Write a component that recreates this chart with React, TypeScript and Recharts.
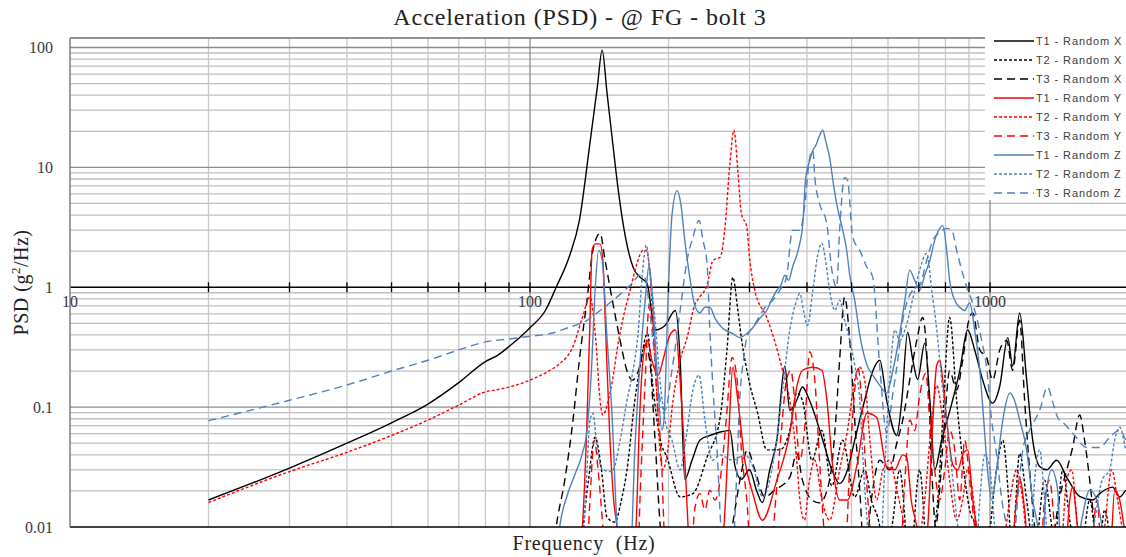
import React from 'react';
import { LineChart, Line, XAxis, YAxis, ReferenceLine, ReferenceDot } from 'recharts';

type Pt = [number, number];

// frequency (Hz), PSD (g^2/Hz); values below 0.01 fall outside the plot
const t1RandomX: Pt[] = [[20,0.0168],[30,0.031],[40,0.05],[50,0.074],[60,0.106],[70,0.16],[80,0.24],[85,0.27],[90,0.32],[100,0.46],[108,0.64],[114,1.0],[122,1.85],[128,3.6],[135,16],[140,46],[143.5,95],[147,42],[151,17],[155.5,6.5],[161,2.7],[167.5,1.47],[174,1.2],[179.6,1.08],[187,0.44],[196.5,0.48],[207,0.64],[212,0.25],[217,0.025],[225,0.036],[234,0.053],[246,0.058],[259,0.062],[272,0.064],[279,0.032],[288,0.025],[300,0.03],[311,0.02],[320,0.016],[332,0.03],[344,0.053],[358,0.22],[367,0.094],[380,0.114],[391,0.147],[405,0.114],[433,0.053],[453,0.03],[471,0.023],[490,0.03],[508,0.053],[534,0.114],[556,0.2],[576,0.246],[596,0.114],[627,0.058],[643,0.114],[662,0.42],[679,0.25],[696,0.17],[721,0.34],[740,0.114],[758,0.03],[785,0.053],[826,0.108],[859,0.2],[894,0.44],[926,0.3],[964,0.168],[1013,0.108],[1050,0.15],[1093,0.38],[1120,0.22],[1160,0.61],[1201,0.17],[1238,0.053],[1282,0.032],[1327,0.03],[1396,0.036],[1468,0.026],[1566,0.018],[1672,0.0168],[1731,0.019],[1847,0.0215],[1913,0.0178],[1971,0.0203]];

const t2RandomX: Pt[] = [[128,0.005],[134,0.0246],[138.5,0.056],[143,0.03],[147,0.0121],[153,0.011],[158,0.0168],[162.5,0.03],[169,0.114],[173,0.203],[180,0.41],[185,0.147],[192,0.053],[198.5,0.038],[212,0.0178],[226,0.019],[242.5,0.038],[259,0.082],[268,0.3],[276,1.21],[283,0.64],[288,0.38],[300,0.159],[312.5,0.089],[327,0.044],[349,0.044],[367,0.064],[380,0.131],[391,0.114],[410,0.036],[431,0.064],[453,0.022],[478,0.053],[508,0.0178],[534,0.03],[552,0.0168],[576,0.01],[590,0.005],[615,0.0114],[636,0.03],[669,0.005],[703,0.03],[732,0.006],[770,0.0168],[789,0.078],[817,0.56],[846,0.114],[872,0.036],[903,0.0139],[935,0.01],[974,0.005],[1033,0.03],[1066,0.053],[1093,0.0215],[1115,0.006],[1160,0.041],[1201,0.0168],[1250,0.006],[1314,0.0246],[1382,0.008],[1439,0.03],[1490,0.0114],[1566,0.005],[1647,0.0168],[1720,0.006],[1775,0.0139],[1866,0.005],[1971,0.007]];

const t3RandomX: Pt[] = [[111.5,0.005],[114,0.01],[119,0.0246],[124,0.078],[128,0.246],[133,0.78],[137,2.03],[142,2.82],[145.6,1.68],[151,0.78],[157,0.36],[162.5,0.2],[167,0.168],[172,0.2],[178,0.33],[182,0.246],[187,0.053],[192,0.01],[196.5,0.005],[265,0.005],[275,0.01],[286,0.0246],[297,0.044],[308,0.03],[324,0.0178],[340,0.0203],[367,0.026],[380,0.041],[391,0.0246],[410,0.0168],[426,0.0159],[448,0.0246],[462,0.078],[471,0.246],[483,0.83],[495.5,0.36],[508,0.078],[521,0.0203],[534,0.005],[552,0.0168],[576,0.036],[605,0.03],[627,0.05],[646,0.078],[669,0.168],[693,0.36],[714,0.56],[732,0.203],[747,0.03],[762,0.01],[777,0.0203],[797,0.078],[817,0.2],[846,0.139],[872,0.246],[899,0.53],[917,0.61],[950,0.3],[983,0.26],[1013,0.168],[1050,0.3],[1087,0.36],[1120,0.203],[1160,0.53],[1189,0.114],[1219,0.03],[1250,0.01],[1282,0.005],[1348,0.006],[1417,0.0178],[1468,0.03],[1512,0.046],[1566,0.086],[1605,0.053],[1647,0.0246],[1689,0.01],[1731,0.005],[1971,0.005]];

const t1RandomY: Pt[] = [[128,0.005],[130,0.01],[133,0.078],[135,0.53],[136.4,2.03],[138.5,2.3],[142,2.3],[144,1.68],[146,0.44],[149,0.06],[152,0.0168],[154.6,0.01],[157,0.005],[166.7,0.005],[170,0.01],[173,0.078],[176,0.246],[180,0.36],[184,0.246],[190,0.185],[194.5,0.246],[201.5,0.4],[207,0.44],[212,0.168],[216,0.053],[220.6,0.01],[223,0.005],[259,0.005],[264,0.01],[270,0.053],[276,0.215],[283,0.114],[293,0.036],[305,0.019],[320,0.0114],[344,0.0246],[367,0.061],[380,0.147],[391,0.203],[412,0.215],[431,0.203],[442,0.114],[455,0.032],[471,0.0168],[490,0.0168],[513,0.032],[540,0.089],[567,0.082],[596,0.032],[621,0.03],[646,0.04],[659,0.038],[674,0.0168],[693,0.01],[710,0.005],[732,0.01],[751,0.078],[766,0.225],[778,0.246],[789,0.168],[805,0.078],[830,0.033],[851,0.03],[872,0.04],[894,0.044],[917,0.0168],[935,0.01],[960,0.005],[1104,0.005],[1142,0.0168],[1160,0.026],[1189,0.0139],[1219,0.005],[1453,0.005],[1490,0.0168],[1512,0.0215],[1550,0.01],[1605,0.005],[1820,0.005],[1866,0.0203],[1913,0.0168],[1971,0.008]];

const t2RandomY: Pt[] = [[20,0.016],[30,0.029],[40,0.042],[50,0.058],[60,0.078],[70,0.104],[80,0.134],[85,0.14],[90,0.147],[100,0.168],[110.5,0.203],[116,0.23],[124,0.32],[130,0.56],[135,0.83],[139,0.36],[142,0.114],[144,0.086],[148,0.114],[151.5,0.178],[154.6,0.3],[159,0.53],[165,0.94],[171,1.6],[176,2.03],[179,2.03],[182,1.39],[185,0.53],[189,0.114],[191.6,0.044],[194.5,0.03],[198.5,0.04],[204.6,0.114],[212,0.246],[219.5,0.38],[228,0.71],[234,0.83],[242.5,1.04],[250,1.68],[259,1.78],[265,2.98],[272,10.8],[277.5,20.4],[283,9.4],[288,4.14],[296,3.16],[300,1.78],[308,0.944],[327,0.56],[340,0.36],[354,0.203],[367,0.114],[380,0.036],[386,0.0168],[395,0.0114],[405,0.0246],[416,0.036],[431,0.0168],[448,0.0114],[471,0.03],[490,0.064],[508,0.168],[521,0.215],[534,0.168],[548,0.053],[567,0.0168],[585,0.03],[605,0.036],[627,0.0203],[653,0.01],[680,0.005],[721,0.0168],[747,0.078],[766,0.152],[789,0.078],[817,0.0246],[846,0.0114],[872,0.0168],[894,0.03],[926,0.0139],[950,0.005],[1050,0.005],[1104,0.0168],[1142,0.03],[1178,0.0168],[1219,0.005],[1417,0.005],[1468,0.0246],[1505,0.03],[1550,0.01],[1605,0.005],[1731,0.005],[1775,0.01],[1838,0.03],[1894,0.0168],[1971,0.006]];

const t3RandomY: Pt[] = [[133,0.005],[135,0.0168],[138,0.053],[140.6,0.03],[144,0.01],[146,0.005],[171,0.005],[174,0.0246],[178,0.168],[181.5,0.71],[185,0.44],[189,0.114],[193.5,0.03],[195.5,0.01],[198,0.005],[223,0.005],[228,0.0139],[234,0.019],[240,0.0139],[246,0.0203],[252.5,0.0168],[259,0.0246],[267,0.078],[275,0.26],[282,0.168],[288,0.044],[296,0.0168],[303,0.005],[332,0.005],[342,0.0168],[352,0.064],[361,0.168],[369,0.203],[376,0.114],[386,0.036],[395,0.064],[405.5,0.29],[416,0.168],[426,0.036],[435,0.01],[442,0.005],[483,0.005],[495,0.03],[508,0.139],[516,0.215],[526,0.114],[537,0.03],[548,0.01],[556,0.005],[636,0.005],[653,0.0246],[669,0.078],[686,0.064],[703,0.125],[725,0.192],[740,0.078],[758,0.03],[777,0.0168],[797,0.03],[817,0.064],[838,0.044],[859,0.0168],[881,0.053],[903,0.0246],[926,0.01],[950,0.005],[1282,0.005],[1314,0.0168],[1348,0.0246],[1382,0.01],[1417,0.005],[1647,0.005],[1707,0.0168],[1752,0.006],[1971,0.005]];

const t1RandomZ: Pt[] = [[113.8,0.005],[116,0.01],[120.5,0.0184],[125,0.027],[129.7,0.04],[133,0.064],[136,0.203],[138.5,0.944],[141,2.03],[143.5,1.68],[147,0.38],[150.7,0.089],[154.6,0.01],[157,0.005],[165,0.005],[169,0.044],[173,0.203],[178,0.78],[181.5,1.52],[184,0.944],[188.8,0.203],[193.5,0.064],[195.5,0.078],[199.5,0.78],[203.5,4.0],[208.8,6.4],[213,4.8],[217,2.46],[223,1.14],[228,0.71],[234,0.61],[240,0.68],[246,0.68],[252.5,0.55],[261.5,0.46],[276,0.41],[285.6,0.38],[296,0.41],[305,0.46],[316,0.55],[327,0.64],[335,0.78],[344,0.944],[351,1.04],[358,1.26],[365,1.14],[372,1.47],[380,1.85],[386,2.33],[391.5,3.28],[397,7.8],[405.5,11.4],[412,13.9],[418,15.2],[426,18.5],[433,20.4],[439,16.8],[448,12.1],[457,7.1],[464,5.0],[478.5,2.98],[488,2.03],[495.5,1.26],[508,0.78],[521,0.4],[540,0.225],[556,0.185],[576,0.152],[596,0.131],[615,0.203],[636.5,0.41],[653,0.78],[669,1.39],[686,1.14],[703.5,0.944],[721,1.26],[740,1.68],[758,2.46],[777.5,3.1],[789,3.28],[805,2.03],[817,1.14],[838,0.78],[859,0.68],[881,0.64],[903,0.74],[926,0.44],[950,0.203],[969,0.078],[983.5,0.036],[1008,0.0168],[1033,0.03],[1066,0.078],[1104,0.131],[1130,0.114],[1160,0.078],[1201,0.044],[1238,0.0168],[1270,0.01],[1295,0.005],[1320,0.0168],[1362,0.03],[1403,0.0203],[1430,0.005],[1527,0.005],[1582,0.0114],[1647,0.0203],[1707,0.0168],[1752,0.01],[1800,0.005],[1971,0.005]];

const t2RandomZ: Pt[] = [[130,0.005],[133,0.03],[135,0.078],[137,0.089],[140,0.044],[144,0.03],[150.7,0.029],[157,0.053],[162.5,0.114],[167.5,0.203],[172,0.44],[175,1.14],[179,2.24],[182,1.39],[187,0.53],[191.6,0.168],[196.5,0.078],[203.5,0.053],[212,0.03],[218,0.053],[226,0.139],[233,0.185],[240,0.078],[249,0.036],[259,0.04],[276,0.036],[293,0.04],[305,0.032],[320.5,0.0178],[332,0.0246],[344,0.056],[354,0.139],[367,0.44],[380,0.78],[386,0.89],[393,0.64],[401,0.48],[412,0.944],[422,1.85],[431,2.33],[439,1.68],[448,0.944],[460,0.64],[471,0.78],[483,0.53],[495.5,0.36],[508,0.225],[521,0.114],[531,0.03],[542,0.01],[552,0.005],[576,0.005],[590,0.03],[605,0.168],[621,0.44],[636.5,0.36],[653,0.44],[686,0.944],[703,1.39],[728.5,1.92],[747,0.944],[766,0.44],[785,0.168],[805,0.078],[826,0.03],[851,0.01],[870,0.005],[930,0.005],[950,0.0168],[974,0.04],[1000,0.03],[1023,0.01],[1040,0.005],[1219,0.005],[1250,0.0246],[1282,0.044],[1314,0.0168],[1348,0.005],[1622,0.005],[1689,0.0114],[1752,0.0246],[1820,0.03],[1866,0.053],[1913,0.068],[1971,0.044]];

const t3RandomZ: Pt[] = [[20,0.077],[30,0.114],[40,0.153],[50,0.2],[60,0.246],[70,0.3],[80,0.35],[90,0.37],[100,0.39],[110.5,0.41],[120,0.455],[133,0.53],[142,0.64],[154.6,0.83],[167.5,1.1],[173,1.26],[178,1.19],[182,0.64],[187,0.246],[192,0.114],[196.5,0.094],[203.5,0.203],[212,0.64],[219.5,1.68],[226,2.61],[233,3.6],[237.7,2.46],[242.5,1.59],[246,0.44],[250,0.139],[255,0.044],[260,0.01],[264,0.005],[275,0.005],[281,0.0246],[285.6,0.114],[291,0.246],[297,0.4],[305,0.46],[316,0.58],[327,0.71],[337,0.78],[349,0.944],[361,1.21],[372,2.98],[386,2.98],[395.5,4.8],[405.5,12.1],[412,13.9],[416,8.25],[426,5.0],[441.6,3.4],[453,1.39],[464,1.0],[471,2.98],[483,8.25],[490,7.8],[503,2.61],[521,2.03],[540,1.47],[556,1.21],[576,0.215],[596,0.061],[615,0.131],[630,0.246],[646,0.53],[662,0.78],[679,0.944],[703.5,1.04],[728.5,1.68],[751,2.46],[777,2.87],[805,3.1],[826,2.98],[846,2.03],[868,1.39],[890,1.0],[912,0.78],[935,0.56],[959,0.36],[983,0.215],[1008,0.078],[1033,0.041],[1061,0.0168],[1087,0.01],[1115,0.005],[1148,0.0168],[1178,0.044],[1219,0.064],[1282,0.094],[1334,0.147],[1365,0.114],[1403,0.082],[1453,0.072],[1527,0.058],[1622,0.046],[1731,0.046],[1820,0.056],[1913,0.064],[1971,0.053]];

const seriesNames = ['T1 - Random X','T2 - Random X','T3 - Random X','T1 - Random Y','T2 - Random Y','T3 - Random Y','T1 - Random Z','T2 - Random Z','T3 - Random Z'];

const yTicks = [0.01, 0.1, 1, 10, 100];
const yMinorGrid = [0.02,0.03,0.04,0.05,0.06,0.07,0.08,0.09,0.2,0.3,0.4,0.5,0.6,0.7,0.8,0.9,2,3,4,5,6,7,8,9,20,30,40,50,60,70,80,90];
const yMajorGrid = [0.1, 10, 100];
const xMinorGrid = [20,30,40,50,60,70,80,90,200,300,400,500,600,700,800,900];
const xMajorGrid = [100, 1000];
const xTickLabels = [10, 100, 1000];

const BLACK = '#000000';
const RED = '#ff0000';
const BLUE = '#4f81bd';
const SOLID = undefined;
const SHORT = '3 2';
const LONG = '8 5';

const SERIES = [
  { name: seriesNames[0], pts: t1RandomX, color: BLACK, dash: SOLID },
  { name: seriesNames[1], pts: t2RandomX, color: BLACK, dash: SHORT },
  { name: seriesNames[2], pts: t3RandomX, color: BLACK, dash: LONG },
  { name: seriesNames[3], pts: t1RandomY, color: RED, dash: SOLID },
  { name: seriesNames[4], pts: t2RandomY, color: RED, dash: SHORT },
  { name: seriesNames[5], pts: t3RandomY, color: RED, dash: LONG },
  { name: seriesNames[6], pts: t1RandomZ, color: BLUE, dash: SOLID },
  { name: seriesNames[7], pts: t2RandomZ, color: BLUE, dash: SHORT },
  { name: seriesNames[8], pts: t3RandomZ, color: BLUE, dash: LONG },
];

const SERIF = "'Liberation Serif', 'Times New Roman', serif";
const SANS = "'Liberation Sans', Arial, sans-serif";

const toData = (pts: Pt[]) => pts.map(([f, v]) => ({ f, v }));

const XLabel = (props: any) => {
  const vb = props.viewBox || {};
  const cx = vb.x + vb.width / 2 - 14;
  return (
    <text x={cx} y={vb.y + 23} textAnchor="middle" fontFamily={SERIF} fontSize={20} fill="#222" letterSpacing={0.8} style={{ whiteSpace: 'pre' }}>
      Frequency  (Hz)
    </text>
  );
};

const YLabel = (props: any) => {
  const vb = props.viewBox || {};
  const cy = vb.y + vb.height / 2;
  return (
    <text transform={`translate(${vb.x + 28},${cy}) rotate(-90)`} textAnchor="middle" fontFamily={SERIF} fontSize={20} fill="#222" letterSpacing={0.5}>
      PSD (g<tspan fontSize={13} dy={-8}>2</tspan><tspan dy={8}>/Hz)</tspan>
    </text>
  );
};

const LegendBox = () => (
  <div style={{ position: 'absolute', left: 985, top: 29, width: 141, height: 171, background: '#fff', paddingTop: 2, boxSizing: 'border-box' }}>
    {SERIES.map((s) => (
      <div key={s.name} style={{ display: 'flex', alignItems: 'center', height: 19 }}>
        <svg width={40} height={6} style={{ marginLeft: 9, display: 'block' }}>
          <line x1={0} x2={40} y1={3} y2={3} stroke={s.color} strokeWidth={1.5} strokeDasharray={s.dash} />
        </svg>
        <span style={{ marginLeft: 2, fontFamily: SANS, fontSize: 11, letterSpacing: 0.9, color: '#404040', whiteSpace: 'nowrap' }}>{s.name}</span>
      </div>
    ))}
  </div>
);

export default function App() {
  return (
    <div style={{ position: 'absolute', left: 0, top: 0, width: 1126, height: 557, background: '#fff', overflow: 'hidden' }}>
      <div style={{ position: 'absolute', left: 34, width: 1092, top: 4, textAlign: 'center', fontFamily: SERIF, fontSize: 24, letterSpacing: 0.9, color: '#222' }}>
        Acceleration (PSD) - @ FG - bolt 3
      </div>
      <LineChart width={1126} height={557} margin={{ top: 38, right: 0, bottom: 0, left: 0 }}>
        <XAxis type="number" dataKey="f" scale="log" domain={[10, 1975]} allowDataOverflow tick={false} tickLine={false} axisLine={{ stroke: '#000', strokeWidth: 1.5 }} height={30} label={<XLabel />} />
        <YAxis type="number" dataKey="v" scale="log" domain={[0.01, 120]} allowDataOverflow ticks={yTicks} tickFormatter={(v: number) => String(v)} tickLine={false} tickMargin={11} axisLine={{ stroke: '#7f7f7f', strokeWidth: 1.5 }} width={70} tick={{ fontFamily: SERIF, fontSize: 16, fill: '#3a3a3a' }} label={<YLabel />} />
        {yMinorGrid.map((v) => <ReferenceLine key={'ym' + v} y={v} stroke="#bfbfbf" strokeWidth={1.3} />)}
        {xMinorGrid.map((v) => <ReferenceLine key={'xm' + v} x={v} stroke="#c8c8c8" strokeWidth={1.3} />)}
        {yMajorGrid.map((v) => <ReferenceLine key={'yM' + v} y={v} stroke="#8c8c8c" strokeWidth={1.3} />)}
        {xMajorGrid.map((v) => <ReferenceLine key={'xM' + v} x={v} stroke="#8c8c8c" strokeWidth={1.3} />)}
        <ReferenceLine y={120} stroke="#6f6f6f" strokeWidth={1.5} />
        <ReferenceLine y={1} stroke="#000" strokeWidth={1.5} />
        {[...xMinorGrid, ...xMajorGrid].map((v) => (
          <ReferenceDot key={'tk' + v} x={v} y={1} r={0} shape={(p: any) => <line x1={p.cx} x2={p.cx} y1={p.cy - 5} y2={p.cy + 5} stroke="#000" strokeWidth={1.3} />} />
        ))}
        {xTickLabels.map((v) => (
          <ReferenceDot key={'tl' + v} x={v} y={1} r={0} shape={(p: any) => <text x={p.cx} y={p.cy + 20} textAnchor="middle" fontFamily={SERIF} fontSize={16} fill="#3a3a3a">{String(v)}</text>} />
        ))}
        {SERIES.map((s) => (
          <Line key={s.name} data={toData(s.pts)} dataKey="v" name={s.name} type="monotone" stroke={s.color} strokeWidth={1.4} strokeDasharray={s.dash} dot={false} activeDot={false} isAnimationActive={false} />
        ))}
      </LineChart>
      <LegendBox />
    </div>
  );
}
